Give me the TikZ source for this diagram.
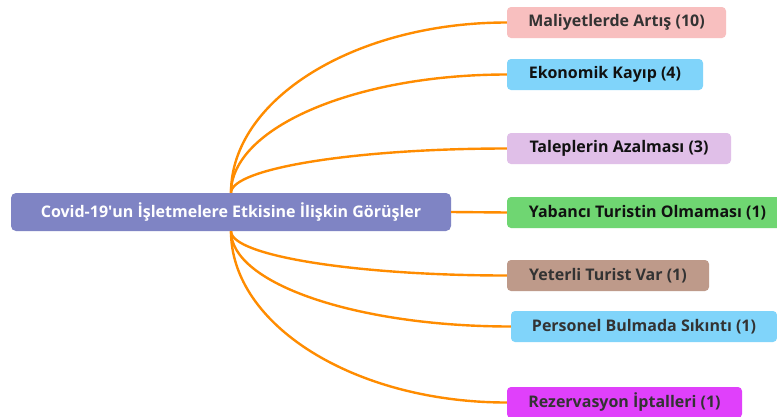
\documentclass[tikz,border=0pt]{standalone}
\usepackage{fontspec}
\setmainfont{Open Sans}
\usetikzlibrary{calc}
\definecolor{conncol}{HTML}{FF8C00}
\definecolor{rootcol}{HTML}{7F84C4}
\definecolor{c1}{HTML}{F8BFBF}
\definecolor{c2}{HTML}{80D4FA}
\definecolor{c3}{HTML}{E0BFE8}
\definecolor{c4}{HTML}{6FD672}
\definecolor{c5}{HTML}{BE9A8A}
\definecolor{c6}{HTML}{80D4FA}
\definecolor{c7}{HTML}{E040FB}
\definecolor{dtext}{HTML}{333333}
\definecolor{btext}{HTML}{111111}
\tikzset{
  topic/.style={rounded corners=4pt, minimum height=31pt, inner sep=0pt,
    font=\fontsize{16}{18}\selectfont\bfseries, text=dtext},
  rootbox/.style={rounded corners=5pt, minimum height=38pt, minimum width=440pt,
    inner sep=0pt, fill=rootcol, text=white, font=\fontsize{16}{18}\selectfont\bfseries},
  conn/.style={draw=conncol, line width=2.4pt},
}
\newcommand{\arcto}[2]{%
  \draw[conn] (#1) .. controls ($(#1)!0.55!(#1 |- #2)$) and ($(#2)!0.55!(#1 |- #2)$) .. (#2);}
\begin{document}
\begin{tikzpicture}[x=1pt,y=-1pt]
\useasboundingbox (0,0) rectangle (777,416);
\clip (0,0) rectangle (777,416);
\fill[white] (0,0) rectangle (777,416);
\node[rootbox] (c) at (231,212) {Covid-19\textquotesingle un İşletmelere Etkisine İlişkin Görüşler};
\node[topic, fill=c1, minimum width=219pt] (b1) at (616.5,22.5) {Maliyetlerde Artış (10)};
\node[topic, fill=c2, minimum width=196pt, text=btext] (b2) at (605,74.5) {Ekonomik Kayıp (4)};
\node[topic, fill=c3, minimum width=224pt, text=btext] (b3) at (619,148.5) {Taleplerin Azalması (3)};
\node[topic, fill=c4, minimum width=281pt, text=btext] (b4) at (647.5,212.5) {Yabancı Turistin Olmaması (1)};
\node[topic, fill=c5, minimum width=202pt] (b5) at (608,275.5) {Yeterli Turist Var (1)};
\node[topic, fill=c6, minimum width=266pt] (b6) at (644,326.5) {Personel Bulmada Sıkıntı (1)};
\node[topic, fill=c7, minimum width=235pt] (b7) at (624.5,402.5) {Rezervasyon İptalleri (1)};
\arcto{c.north}{b1.west}
\arcto{c.north}{b2.west}
\arcto{c.north}{b3.west}
\draw[conn] (c.east) -- (b4.west);
\arcto{c.south}{b5.west}
\arcto{c.south}{b6.west}
\arcto{c.south}{b7.west}
\end{tikzpicture}
\end{document}
